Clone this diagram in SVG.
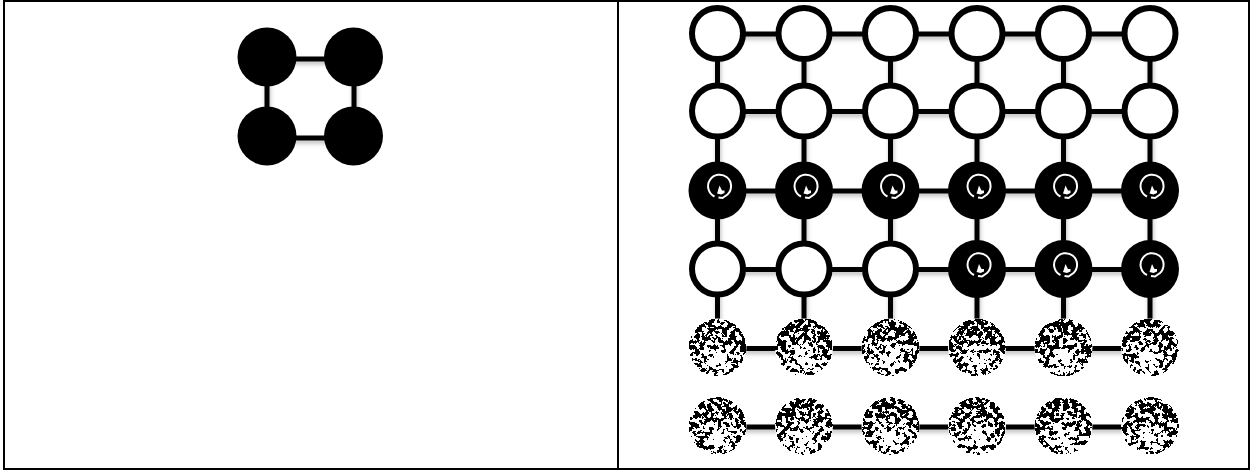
<svg xmlns="http://www.w3.org/2000/svg" width="1252" height="475" viewBox="0 0 1252 475">
<style>
.frame{fill:none;stroke:#000;stroke-width:2}
.ln{stroke:#000;stroke-width:5;fill:none}
.solid{fill:#000}
.open{fill:#fff;stroke:#000;stroke-width:6}
.act{fill:#000}
.ico{fill:none;stroke:#fff;stroke-width:2}
.icf{fill:#fff}
.tex{fill:url(#tg);filter:url(#noise)}
.texbg{fill:#fff}
</style>
<defs>
<filter id="sh" x="-20%" y="-50%" width="140%" height="200%">
<feDropShadow dx="1" dy="3" stdDeviation="2" flood-color="#000" flood-opacity="0.25"/>
</filter>
<filter id="noise" x="0" y="0" width="1" height="1" color-interpolation-filters="sRGB">
<feTurbulence type="fractalNoise" baseFrequency="0.22" numOctaves="3" seed="7" result="n"/>
<feColorMatrix in="n" type="matrix" values="0 0 0 0 0  0 0 0 0 0  0 0 0 0 0  1 0 0 0 0" result="na"/>
<feComposite in="na" in2="SourceGraphic" operator="arithmetic" k1="1" k2="0" k3="0" k4="0" result="m"/>
<feComponentTransfer in="m">
<feFuncR type="linear" slope="0" intercept="0"/>
<feFuncG type="linear" slope="0" intercept="0"/>
<feFuncB type="linear" slope="0" intercept="0"/>
<feFuncA type="discrete" tableValues="0 0 0 0 0 0 0 0 0 1 1 1 1 1 1 1 1 1 1 1"/>
</feComponentTransfer>
</filter>
<radialGradient id="tg" cx="0.5" cy="0.7" r="0.62">
<stop offset="0" stop-color="#000" stop-opacity="0.6"/>
<stop offset="0.4" stop-color="#000" stop-opacity="0.85"/>
<stop offset="1" stop-color="#000" stop-opacity="1"/>
</radialGradient>
<g id="icon">
<path class="ico" d="M-5,9 A11.5,11.5 0 1 1 8,7 L3,10.5 L-1,10"/>
<path class="icf" d="M0,-2 L2.5,3 L5,3 L5,5.5 L1.5,7 L-2.5,6 L-1.5,3 Z"/>
</g>
</defs>
<rect id="frame" class="frame" x="4" y="1" width="1245" height="468"/>
<line id="divider" x1="618" y1="0" x2="618" y2="470" stroke="#000" stroke-width="2"/>

<g id="connectors" filter="url(#sh)">
<line class="ln" x1="267" y1="59" x2="353" y2="59"/>
<line class="ln" x1="267" y1="138" x2="353" y2="138"/>
<line class="ln" x1="267" y1="57" x2="267" y2="136"/>
<line class="ln" x1="354" y1="57" x2="354" y2="136"/>
<line class="ln" x1="717.5" y1="34" x2="1150" y2="34"/>
<line class="ln" x1="717.5" y1="111.5" x2="1150" y2="111.5"/>
<line class="ln" x1="717.5" y1="191" x2="1150" y2="191"/>
<line class="ln" x1="717.5" y1="269.5" x2="1150" y2="269.5"/>
<line class="ln" x1="717.5" y1="348.5" x2="1150" y2="348.5"/>
<line class="ln" x1="717.5" y1="427" x2="1150" y2="427"/>
<line class="ln" x1="717.5" y1="34" x2="717.5" y2="347.5"/>
<line class="ln" x1="804" y1="34" x2="804" y2="347.5"/>
<line class="ln" x1="890.5" y1="34" x2="890.5" y2="347.5"/>
<line class="ln" x1="977" y1="34" x2="977" y2="347.5"/>
<line class="ln" x1="1063.5" y1="34" x2="1063.5" y2="347.5"/>
<line class="ln" x1="1150" y1="34" x2="1150" y2="347.5"/>
</g>

<g id="left-nodes">
<g id="L1"><circle class="solid" cx="267" cy="57" r="29.5"/></g>
<g id="L2"><circle class="solid" cx="353.5" cy="57" r="29.5"/></g>
<g id="L3"><circle class="solid" cx="267" cy="136" r="29.5"/></g>
<g id="L4"><circle class="solid" cx="353.5" cy="136" r="29.5"/></g>
</g>

<g id="row1">
<g id="r1c1"><circle class="open" cx="717.5" cy="33.5" r="25.5"/></g>
<g id="r1c2"><circle class="open" cx="804" cy="33.5" r="25.5"/></g>
<g id="r1c3"><circle class="open" cx="890.5" cy="33.5" r="25.5"/></g>
<g id="r1c4"><circle class="open" cx="977" cy="33.5" r="25.5"/></g>
<g id="r1c5"><circle class="open" cx="1063.5" cy="33.5" r="25.5"/></g>
<g id="r1c6"><circle class="open" cx="1150" cy="33.5" r="25.5"/></g>
</g>
<g id="row2">
<g id="r2c1"><circle class="open" cx="717.5" cy="111" r="25.5"/></g>
<g id="r2c2"><circle class="open" cx="804" cy="111" r="25.5"/></g>
<g id="r2c3"><circle class="open" cx="890.5" cy="111" r="25.5"/></g>
<g id="r2c4"><circle class="open" cx="977" cy="111" r="25.5"/></g>
<g id="r2c5"><circle class="open" cx="1063.5" cy="111" r="25.5"/></g>
<g id="r2c6"><circle class="open" cx="1150" cy="111" r="25.5"/></g>
</g>
<g id="row3">
<g id="r3c1"><circle class="act" cx="717.5" cy="190.5" r="29"/><use href="#icon" x="719.5" y="187.5"/></g>
<g id="r3c2"><circle class="act" cx="804" cy="190.5" r="29"/><use href="#icon" x="806" y="187.5"/></g>
<g id="r3c3"><circle class="act" cx="890.5" cy="190.5" r="29"/><use href="#icon" x="892.5" y="187.5"/></g>
<g id="r3c4"><circle class="act" cx="977" cy="190.5" r="29"/><use href="#icon" x="979" y="187.5"/></g>
<g id="r3c5"><circle class="act" cx="1063.5" cy="190.5" r="29"/><use href="#icon" x="1065.5" y="187.5"/></g>
<g id="r3c6"><circle class="act" cx="1150" cy="190.5" r="29"/><use href="#icon" x="1152" y="187.5"/></g>
</g>
<g id="row4">
<g id="r4c1"><circle class="open" cx="717.5" cy="269" r="25.5"/></g>
<g id="r4c2"><circle class="open" cx="804" cy="269" r="25.5"/></g>
<g id="r4c3"><circle class="open" cx="890.5" cy="269" r="25.5"/></g>
<g id="r4c4"><circle class="act" cx="977" cy="269" r="29"/><use href="#icon" x="979" y="266"/></g>
<g id="r4c5"><circle class="act" cx="1063.5" cy="269" r="29"/><use href="#icon" x="1065.5" y="266"/></g>
<g id="r4c6"><circle class="act" cx="1150" cy="269" r="29"/><use href="#icon" x="1152" y="266"/></g>
</g>
<g id="row5">
<g id="r5c1"><circle class="texbg" cx="717.5" cy="347.5" r="29"/><circle class="tex" cx="717.5" cy="347.5" r="29"/></g>
<g id="r5c2"><circle class="texbg" cx="804" cy="347.5" r="29"/><circle class="tex" cx="804" cy="347.5" r="29"/></g>
<g id="r5c3"><circle class="texbg" cx="890.5" cy="347.5" r="29"/><circle class="tex" cx="890.5" cy="347.5" r="29"/></g>
<g id="r5c4"><circle class="texbg" cx="977" cy="347.5" r="29"/><circle class="tex" cx="977" cy="347.5" r="29"/></g>
<g id="r5c5"><circle class="texbg" cx="1063.5" cy="347.5" r="29"/><circle class="tex" cx="1063.5" cy="347.5" r="29"/></g>
<g id="r5c6"><circle class="texbg" cx="1150" cy="347.5" r="29"/><circle class="tex" cx="1150" cy="347.5" r="29"/></g>
</g>
<g id="row6">
<g id="r6c1"><circle class="texbg" cx="717.5" cy="426" r="29"/><circle class="tex" cx="717.5" cy="426" r="29"/></g>
<g id="r6c2"><circle class="texbg" cx="804" cy="426" r="29"/><circle class="tex" cx="804" cy="426" r="29"/></g>
<g id="r6c3"><circle class="texbg" cx="890.5" cy="426" r="29"/><circle class="tex" cx="890.5" cy="426" r="29"/></g>
<g id="r6c4"><circle class="texbg" cx="977" cy="426" r="29"/><circle class="tex" cx="977" cy="426" r="29"/></g>
<g id="r6c5"><circle class="texbg" cx="1063.5" cy="426" r="29"/><circle class="tex" cx="1063.5" cy="426" r="29"/></g>
<g id="r6c6"><circle class="texbg" cx="1150" cy="426" r="29"/><circle class="tex" cx="1150" cy="426" r="29"/></g>
</g>
</svg>
